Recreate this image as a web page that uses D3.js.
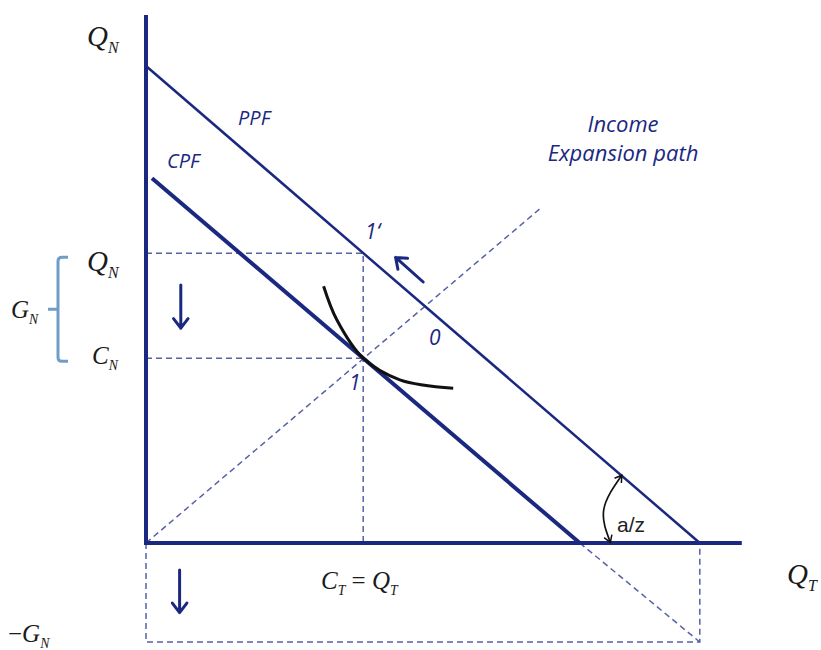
<!DOCTYPE html>
<html>
<head>
<meta charset="utf-8">
<script src="https://cdn.jsdelivr.net/npm/d3@7"></script>
<style>
  body { margin: 0; background: #fff; }
  svg { display: block; }
</style>
</head>
<body>
<div id="chart"></div>
<script>
// Diagram values in model units (Q_T along x, Q_N along y)
const axisMax = [99.3, 88];
const ppf = [[0, 79.5], [92.3, 0]];
const cpf = [[1, 60.8], [72.3, 0]];
const expansionPath = [[0, 0], [66, 56]];
const indifference = [[29.6, 42.8], [31.8, 37.2], [36.2, 30.8], [42.3, 27.2], [51.2, 25.8]];
const consumption = [36.2, 30.8];   // point 1  (C_T, C_N)
const production = [36.2, 48.3];    // point 1' (Q_T, Q_N)
const negGN = -16.5;                 // -G_N level below the axis
const angleArc = [[79.3, 11.3], [76.3, 5.6], [77.4, 0.1]];
const arrowsDown = [[[5.8, 43], [5.8, 35.8]], [[5.6, -4.5], [5.6, -11.6]]];
const arrowShift = [[46.2, 43.5], [41.6, 47.6]];

const W = 821, H = 650;
const navy = '#1b2880';
const dashCol = '#5662a4';
const braceCol = '#6f9cc8';

const svg = d3.select('#chart').append('svg')
    .attr('width', W)
    .attr('height', H);

const x = d3.scaleLinear().domain([0, 100]).range([146, 746]);
const y = d3.scaleLinear().domain([0, 88]).range([543, 15]);

const line = d3.line().x(d => x(d[0])).y(d => y(d[1]));

function dashed(pts) {
    svg.append('path')
        .attr('d', line(pts))
        .attr('fill', 'none')
        .attr('stroke', dashCol)
        .attr('stroke-width', 1.5)
        .attr('stroke-dasharray', '6,4');
}

// Guide lines
dashed([[0, production[1]], production, [production[0], 0]]);
dashed([[0, consumption[1]], consumption]);
dashed(expansionPath);
dashed([[0, 0], [0, negGN], [ppf[1][0], negGN], [ppf[1][0], 0]]);
dashed([cpf[1], [ppf[1][0], negGN]]);

// PPF and CPF
svg.append('path')
    .attr('d', line(ppf))
    .attr('stroke', navy)
    .attr('stroke-width', 2.5)
    .attr('fill', 'none');

svg.append('path')
    .attr('d', line(cpf))
    .attr('stroke', navy)
    .attr('stroke-width', 4)
    .attr('fill', 'none');

// Indifference curve
svg.append('path')
    .attr('d', d3.line().curve(d3.curveCatmullRom.alpha(0.5))
        .x(d => x(d[0])).y(d => y(d[1]))(indifference))
    .attr('stroke', '#111')
    .attr('stroke-width', 3)
    .attr('fill', 'none');

// Axes
svg.append('path')
    .attr('d', line([[0, axisMax[1]], [0, 0], [axisMax[0], 0]]))
    .attr('stroke', navy)
    .attr('stroke-width', 4)
    .attr('fill', 'none');

// Arrows with open heads
function arrow(from, to, col, w) {
    const x1 = x(from[0]), y1 = y(from[1]), x2 = x(to[0]), y2 = y(to[1]);
    const a = Math.atan2(y2 - y1, x2 - x1);
    const len = 12, spread = 0.65;
    svg.append('path')
        .attr('d', `M${x1},${y1}L${x2},${y2}` +
            `M${x2 - len * Math.cos(a - spread)},${y2 - len * Math.sin(a - spread)}` +
            `L${x2},${y2}` +
            `L${x2 - len * Math.cos(a + spread)},${y2 - len * Math.sin(a + spread)}`)
        .attr('stroke', col)
        .attr('stroke-width', w)
        .attr('stroke-linecap', 'round')
        .attr('stroke-linejoin', 'round')
        .attr('fill', 'none');
}
arrowsDown.forEach(a => arrow(a[0], a[1], navy, 3));
arrow(arrowShift[0], arrowShift[1], navy, 3);

// a/z angle marker, double headed
const defs = svg.append('defs');
defs.append('marker')
    .attr('id', 'head')
    .attr('viewBox', '-10 -6 12 12')
    .attr('refX', 0).attr('refY', 0)
    .attr('markerWidth', 10).attr('markerHeight', 10)
    .attr('markerUnits', 'userSpaceOnUse')
    .attr('orient', 'auto-start-reverse')
    .append('path')
    .attr('d', 'M-8,-5L0,0L-8,5')
    .attr('fill', 'none')
    .attr('stroke', '#111')
    .attr('stroke-width', 1.8);

svg.append('path')
    .attr('d', d3.line().curve(d3.curveNatural).x(d => x(d[0])).y(d => y(d[1]))(angleArc))
    .attr('fill', 'none')
    .attr('stroke', '#111')
    .attr('stroke-width', 1.7)
    .attr('marker-start', 'url(#head)')
    .attr('marker-end', 'url(#head)');

svg.append('text')
    .attr('x', 617).attr('y', 532)
    .attr('font-family', 'Liberation Sans, Arial, sans-serif')
    .attr('font-size', 21)
    .attr('fill', '#222')
    .text('a/z');

// G_N bracket
const yT = y(production[1]) + 4, yB = y(consumption[1]) + 3, yM = (yT + yB) / 2;
const xr = 68, xb = 58, xt = 48;
svg.append('path')
    .attr('d', `M${xr},${yT}L${xb + 4},${yT}Q${xb},${yT} ${xb},${yT + 4}` +
        `L${xb},${yB - 4}Q${xb},${yB} ${xb + 4},${yB}L${xr},${yB}` +
        `M${xt},${yM}L${xb},${yM}`)
    .attr('fill', 'none')
    .attr('stroke', braceCol)
    .attr('stroke-width', 3);

// Math labels (italic serif with subscripts)
function mathLabel(px, py, parts, size) {
    const t = svg.append('text')
        .attr('x', px).attr('y', py)
        .attr('font-family', 'Liberation Serif, Times New Roman, serif')
        .attr('font-style', 'italic')
        .attr('font-size', size)
        .attr('fill', '#1a1a1a');
    let shifted = false;
    parts.forEach(p => {
        const s = t.append('tspan').text(p.t);
        if (p.sub && !shifted) { s.attr('dy', size * 0.25).attr('font-size', size * 0.55); shifted = true; }
        else if (p.sub) { s.attr('font-size', size * 0.55); }
        else if (shifted) { s.attr('dy', -size * 0.25); shifted = false; }
        if (p.up) s.attr('font-style', 'normal');
    });
}
mathLabel(87, 46, [{t: 'Q'}, {t: 'N', sub: true}], 29);
mathLabel(87, 271, [{t: 'Q'}, {t: 'N', sub: true}], 29);
mathLabel(92, 364, [{t: 'C'}, {t: 'N', sub: true}], 25);
mathLabel(11, 318, [{t: 'G'}, {t: 'N', sub: true}], 25);
mathLabel(8, 642, [{t: '\u2212', up: true}, {t: 'G'}, {t: 'N', sub: true}], 25);
mathLabel(321, 589, [{t: 'C'}, {t: 'T', sub: true}, {t: ' = ', up: true}, {t: 'Q'}, {t: 'T', sub: true}], 25);
mathLabel(787, 584, [{t: 'Q'}, {t: 'T', sub: true}], 29);

// Navy italic text labels
function navyLabel(px, py, txt, size, anchor) {
    svg.append('text')
        .attr('x', px).attr('y', py)
        .attr('text-anchor', anchor || 'start')
        .attr('font-family', 'Open Sans, Lato, sans-serif')
        .attr('font-style', 'italic')
        .attr('font-weight', 500)
        .attr('font-size', size)
        .attr('fill', navy)
        .text(txt);
}
navyLabel(238, 125, 'PPF', 20);
navyLabel(167, 168, 'CPF', 20);
navyLabel(623, 132, 'Income', 22, 'middle');
navyLabel(623, 161, 'Expansion path', 22, 'middle');
navyLabel(365, 239, '1\u2018', 21);
navyLabel(429, 345, '0', 21);
navyLabel(349, 390, '1', 21);
</script>
</body>
</html>
